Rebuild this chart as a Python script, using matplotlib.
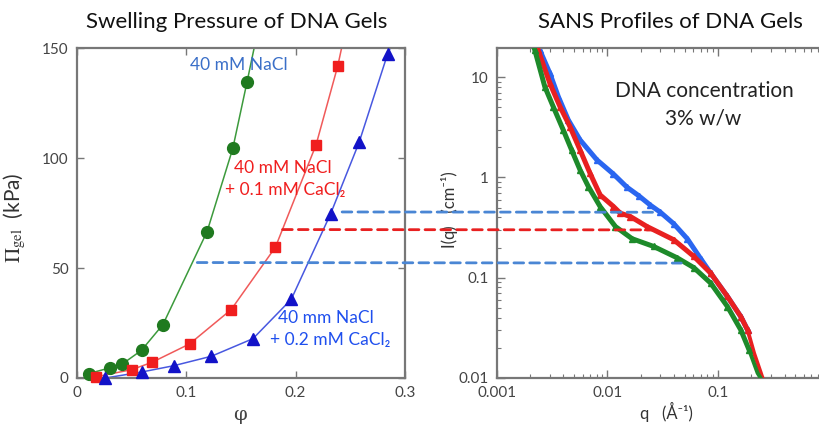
import numpy as np
import matplotlib
matplotlib.use('Agg')
import matplotlib.pyplot as plt
from matplotlib.patches import ConnectionPatch

plt.rcParams['font.family'] = ['Lato', 'DejaVu Sans']
plt.rcParams['mathtext.fontset'] = 'stix'

# swelling pressure (left panel)
phi_na = [0.0107, 0.030, 0.041, 0.059, 0.0786, 0.119, 0.1425, 0.1556]
pi_na = [2.0, 4.6, 6.2, 12.6, 24.3, 66.6, 104.4, 134.8]
phi_ca1 = [0.017, 0.050, 0.0685, 0.103, 0.141, 0.1815, 0.2187, 0.2385]
pi_ca1 = [0.5, 3.8, 7.1, 15.5, 31.1, 59.5, 106.1, 141.9]
phi_ca2 = [0.026, 0.059, 0.0886, 0.123, 0.161, 0.196, 0.232, 0.258, 0.284]
pi_ca2 = [0.0, 2.7, 5.6, 9.9, 17.9, 35.8, 74.7, 107.1, 147.2]
# where the fit lines leave the top of the plot
top_na = (0.162, 150)
top_ca1 = (0.242, 150)
top_ca2 = (0.2865, 150)

# SANS profiles (right panel)
q_blue = [0.00244, 0.00301, 0.00359, 0.00442, 0.00565, 0.00801, 0.01134, 0.0150,
          0.0191, 0.0244, 0.0301, 0.0398, 0.0527, 0.0697, 0.0859, 0.1217, 0.1607, 0.185]
I_blue = [18.7, 10.96, 6.41, 3.75, 2.37, 1.50, 1.08, 0.80,
          0.66, 0.53, 0.45, 0.345, 0.245, 0.155, 0.111, 0.065, 0.041, 0.0302]
q_red = [0.00236, 0.00301, 0.00372, 0.00458, 0.00565, 0.00696, 0.00858, 0.01134,
         0.01304, 0.0161, 0.0228, 0.0398, 0.0605, 0.0859, 0.1217, 0.1607, 0.185]
I_red = [18.7, 8.71, 5.09, 3.21, 1.88, 1.10, 0.67, 0.513,
         0.441, 0.408, 0.324, 0.239, 0.163, 0.111, 0.065, 0.041, 0.0302]
q_green = [0.00220, 0.00271, 0.00323, 0.00398, 0.00474, 0.00565, 0.00672, 0.00858,
           0.0118, 0.0167, 0.0262, 0.0427, 0.0605, 0.0859, 0.1217, 0.1607, 0.191]
I_green = [18.7, 8.05, 5.09, 2.98, 1.88, 1.19, 0.811, 0.513,
           0.324, 0.245, 0.205, 0.158, 0.126, 0.0883, 0.0516, 0.0302, 0.0191]
# fitted tails past the last data point
tail_red = ([0.185, 0.212, 0.253], [0.0302, 0.0177, 0.0100])
tail_green = ([0.191, 0.228, 0.243], [0.0191, 0.0112, 0.0100])

# dashed guides: (phi, Pi) on the left joined to (q, I) on the right
guides = [((0.2425, 75.5), (0.0256, 0.45), '#4a86d4'),
          ((0.188, 67.5), (0.0252, 0.30), '#e82020'),
          ((0.110, 52.5), (0.0465, 0.14), '#4a86d4')]

fig = plt.figure(figsize=(8.2, 4.24), dpi=100, facecolor='white')
ax1 = fig.add_axes([0.0939, 0.1085, 0.4, 0.778])
ax2 = fig.add_axes([0.606, 0.1085, 0.394, 0.778])

spine_c = '#777777'
tick_c = '#444444'

# left panel
ax1.plot(phi_na + [top_na[0]], pi_na + [top_na[1]], color='#3c9a3c', lw=1.1, zorder=2)
ax1.plot(phi_ca1 + [top_ca1[0]], pi_ca1 + [top_ca1[1]], color='#f05a5a', lw=1.1, zorder=2)
ax1.plot(phi_ca2 + [top_ca2[0]], pi_ca2 + [top_ca2[1]], color='#4858e0', lw=1.1, zorder=2)
ax1.plot(phi_na, pi_na, 'o', color='#1f7a1f', ms=8.5, zorder=3, clip_on=False)
ax1.plot(phi_ca1, pi_ca1, 's', color='#f01e1e', ms=6.5, zorder=3, clip_on=False)
ax1.plot(phi_ca2, pi_ca2, '^', color='#1212c8', ms=9, zorder=3, clip_on=False)

ax1.set_xlim(0, 0.3)
ax1.set_ylim(0, 150)
ax1.set_xticks([0, 0.1, 0.2, 0.3])
ax1.set_xticklabels(['0', '0.1', '0.2', '0.3'])
ax1.set_yticks([0, 50, 100, 150])
ax1.tick_params(direction='in', top=True, right=True, length=5, width=1,
                color=spine_c, labelcolor=tick_c, labelsize=11, pad=6)
for s in ax1.spines.values():
    s.set_color(spine_c)
    s.set_linewidth(1.6)

ax1.set_xlabel('φ', fontsize=14, color=tick_c, family=['DejaVu Serif'])
ax1.xaxis.set_label_coords(0.497, -0.085)
ax1.set_ylabel(r'$\Pi_{\mathrm{gel}}$  (kPa)', fontsize=15, color='#333333')
ax1.yaxis.set_label_coords(-0.15, 0.485)

ax1.text(0.494, 0.948, '40 mM NaCl', transform=ax1.transAxes, ha='center', va='center',
         fontsize=12.5, color='#3a6fc8')
ax1.text(0.628, 0.636, '40 mM NaCl', transform=ax1.transAxes, ha='center', va='center',
         fontsize=12.5, color='#f01e1e')
ax1.text(0.634, 0.570, '+ 0.1 mM CaCl₂', transform=ax1.transAxes, ha='center', va='center',
         fontsize=12.5, color='#f01e1e')
ax1.text(0.759, 0.182, '40 mm NaCl', transform=ax1.transAxes, ha='center', va='center',
         fontsize=12.5, color='#1f4fee')
ax1.text(0.771, 0.115, '+ 0.2 mM CaCl₂', transform=ax1.transAxes, ha='center', va='center',
         fontsize=12.5, color='#1f4fee')

# right panel
ax2.set_xscale('log')
ax2.set_yscale('log')
ax2.plot(q_blue, I_blue, '-^', color='#2a66f0', lw=3.6, ms=4, zorder=2)
ax2.plot(q_red, I_red, '-^', color='#e82020', lw=3.6, ms=4, zorder=3)
ax2.plot(q_green, I_green, '-^', color='#1d8a2a', lw=3.6, ms=4, zorder=4)
ax2.plot(tail_red[0], tail_red[1], '-', color='#e82020', lw=2.8, zorder=3)
ax2.plot(tail_green[0], tail_green[1], '-', color='#1d8a2a', lw=2.8, zorder=4)
ax2.set_xlim(0.001, 0.837)
ax2.set_ylim(0.01, 19.5)
ax2.set_xticks([0.001, 0.01, 0.1])
ax2.set_xticklabels(['0.001', '0.01', '0.1'])
ax2.set_yticks([0.01, 0.1, 1, 10])
ax2.set_yticklabels(['0.01', '0.1', '1', '10'])
ax2.tick_params(which='both', direction='in', top=True, right=False,
                color=spine_c, labelcolor=tick_c, labelsize=11, pad=6)
ax2.tick_params(which='major', length=6, width=1)
ax2.tick_params(which='minor', length=3, width=0.8)
ax2.spines['right'].set_visible(False)
for k in ['left', 'top', 'bottom']:
    ax2.spines[k].set_color(spine_c)
    ax2.spines[k].set_linewidth(1.6)

ax2.set_xlabel('q   (Å⁻¹)', fontsize=12, color='#333333')
ax2.xaxis.set_label_coords(0.526, -0.072)
ax2.set_ylabel('I(q)   (cm⁻¹)', fontsize=12, color='#333333')
ax2.yaxis.set_label_coords(-0.12, 0.51)

ax2.text(0.641, 0.870, 'DNA concentration', transform=ax2.transAxes, ha='center',
         va='center', fontsize=15, color='#222222')
ax2.text(0.638, 0.788, '3% w/w', transform=ax2.transAxes, ha='center',
         va='center', fontsize=15, color='#222222')

for a, b, c in guides:
    con = ConnectionPatch(xyA=a, coordsA=ax1.transData, xyB=b, coordsB=ax2.transData,
                          color=c, lw=2, linestyle=(0, (3.5, 2.2)), zorder=5)
    fig.add_artist(con)

fig.text(0.289, 0.948, 'Swelling Pressure of DNA Gels', ha='center', va='center',
         fontsize=16, color='#111111')
fig.text(0.818, 0.948, 'SANS Profiles of DNA Gels', ha='center', va='center',
         fontsize=16, color='#111111')

plt.savefig('out.png', dpi=100, facecolor='white')
